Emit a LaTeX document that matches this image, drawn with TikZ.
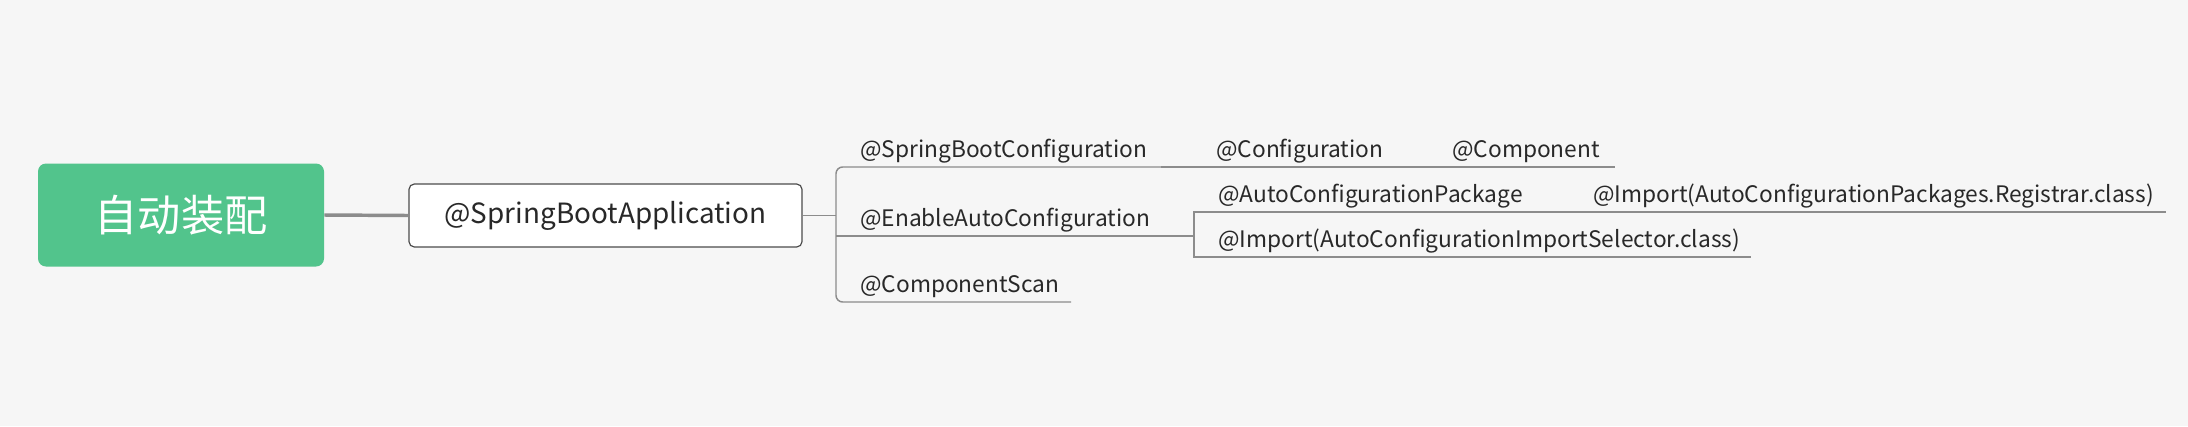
\documentclass[tikz,border=0pt]{standalone}
\usepackage{fontspec}
\setmainfont{Noto Sans CJK SC}
\definecolor{bg}{RGB}{246,246,246}
\definecolor{grn}{RGB}{82,196,140}
\definecolor{lncol}{RGB}{140,140,140}
\definecolor{txt}{RGB}{40,40,40}
\begin{document}
\begin{tikzpicture}[x=0.75pt,y=-0.75pt,
  lbl/.style={inner sep=0pt, anchor=base west, font=\fontsize{17.05}{19}\selectfont, text=txt},
  thinln/.style={draw=lncol, line width=1.1pt},
  thickln/.style={draw=lncol, line width=2.2pt},
  rootbox/.style={fill=grn, rounded corners=6pt, minimum width=214.5pt, minimum height=77.25pt, text=white, font=\fontsize{32.4}{34}\selectfont},
  appbox/.style={fill=white, draw=black!70, line width=0.9pt, rounded corners=4pt, minimum width=294.75pt, minimum height=47.25pt, text=txt, font=\fontsize{20.9}{23}\selectfont}]
\fill[bg] (0,0) rectangle (2188,426);
\useasboundingbox (0,0) rectangle (2188,426);
\node[rootbox] (root) at (181,215) {自动装配};
\node[appbox] (app) at (605.5,215.5) {@SpringBootApplication};
\coordinate (b0) at (836,215.5);
\draw[lncol, line width=2.6pt] (root.east) -- (app.west);
\draw[thinln] (app.east) -- (b0);
% first-level bracket
\coordinate (t1) at (1161,167);
\coordinate (t2) at (1398,167);
\coordinate (t3) at (1615,167);
\coordinate (m1) at (1163,236);
\coordinate (m2) at (1194,236);
\coordinate (s1) at (1071,302);
\draw[thinln, rounded corners=5pt] (t1) -- (836,167) -- (836,302) -- (s1);
\draw[thinln] (t1) -- (t2) -- (t3);
\draw[thinln] (836,236) -- (m1);
\draw[thickln] (m1) -- (m2);
% second-level bracket
\coordinate (a1) at (1540,212);
\coordinate (a2) at (1577,212);
\coordinate (a3) at (2166,212);
\coordinate (i1) at (1751,257);
\draw[thinln] (a1) -- (1194,212) -- (1194,257) -- (i1);
\draw[thickln] (a1) -- (a2);
\draw[thinln] (a2) -- (a3);
% labels
\node[lbl] (sbc) at (860,157) {@SpringBootConfiguration};
\node[lbl] (cfg) at (1216,157) {@Configuration};
\node[lbl] (cmp) at (1452,157) {@Component};
\node[lbl] (eac) at (860,226) {@EnableAutoConfiguration};
\node[lbl] (acp) at (1218,202) {@AutoConfigurationPackage};
\node[lbl] (reg) at (1593,202) {@Import(AutoConfigurationPackages.Registrar.class)};
\node[lbl] (ais) at (1218,247) {@Import(AutoConfigurationImportSelector.class)};
\node[lbl] (cs) at (860,292) {@ComponentScan};
\end{tikzpicture}
\end{document}
